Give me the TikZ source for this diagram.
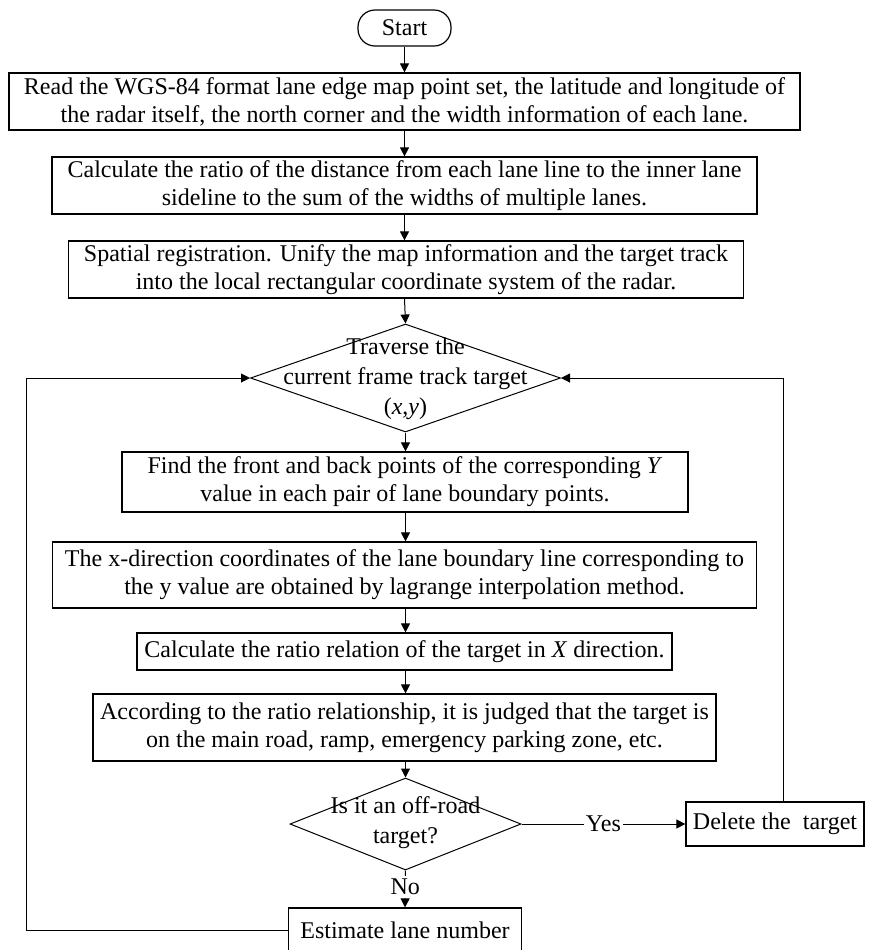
\documentclass[tikz,border=0pt]{standalone}
\usepackage{fontspec}
\setmainfont{Liberation Serif}
\usetikzlibrary{shapes.geometric,arrows.meta}
\tikzset{
  box/.style={draw, line width=0.6pt, align=center, inner sep=0pt, font=\fontsize{12}{14}\selectfont},
  dia/.style={draw, diamond, line width=0.5pt, inner sep=0pt},
  lbl/.style={align=center, inner sep=0pt, font=\fontsize{12}{15}\selectfont},
  arr/.style={line width=0.5pt, -{Triangle[length=4.5pt,width=4.5pt]}},
  ln/.style={line width=0.5pt}
}
\begin{document}
\begin{tikzpicture}[x=0.5pt,y=-0.5pt]
\useasboundingbox (0,0) rectangle (873,950);
\node[box, rounded corners=8.5pt, minimum width=46.5pt, minimum height=18pt] (start) at (404.5,28) {Start};
\node[box, minimum width=395.5pt, minimum height=28.5pt] (b1) at (404.5,101.5)
  {Read the WGS-84 format lane edge map point set, the latitude and longitude of\\the radar itself, the north corner and the width information of each lane.};
\node[box, minimum width=352.5pt, minimum height=28.5pt] (b2) at (404.5,185.5)
  {Calculate the ratio of the distance from each lane line to the inner lane\\sideline to the sum of the widths of multiple lanes.};
\node[box, minimum width=337.5pt, minimum height=28.5pt] (b3) at (406,269.5)
  {Spatial registration. Unify the map information and the target track\\into the local rectangular coordinate system of the radar.};
\node[dia, minimum width=155pt, minimum height=54pt] (d1) at (405.5,378) {};
\node[lbl] (d1t) at (405.5,379) {Traverse the\\current frame track target\\(\textit{x},\textit{y})};
\node[box, minimum width=283pt, minimum height=30pt] (b4) at (405,482)
  {Find the front and back points of the corresponding \textit{Y}\\value in each pair of lane boundary points.};
\node[box, minimum width=352pt, minimum height=33pt] (b5) at (404.5,575)
  {The x-direction coordinates of the lane boundary line corresponding to\\the y value are obtained by lagrange interpolation method.};
\node[box, minimum width=267.5pt, minimum height=18.5pt] (b6) at (404.5,651.5)
  {Calculate the ratio relation of the target in \textit{X} direction.};
\node[box, minimum width=311.5pt, minimum height=33.5pt] (b7) at (404.5,727.5)
  {According to the ratio relationship, it is judged that the target is\\on the main road, ramp, emergency parking zone, etc.};
\node[dia, minimum width=115.5pt, minimum height=46pt] (d2) at (405.5,824) {};
\node[lbl] (d2t) at (405.5,823) {Is it an off-road\\target?};
\node[box, minimum width=89pt, minimum height=22pt] (del) at (775,824) {Delete the~ target};
\node[box, minimum width=116.5pt, minimum height=22pt] (est) at (405,930) {Estimate lane number};
\coordinate (rloop) at (783,378);
\coordinate (lloop) at (26,378);
\draw[arr] (start.south) -- (start.south |- b1.north);
\draw[arr] (start.south |- b1.south) -- (start.south |- b2.north);
\draw[arr] (start.south |- b2.south) -- (start.south |- b3.north);
\draw[arr] (start.south |- b3.south) -- (d1.north);
\draw[arr] (d1.south) -- (d1.south |- b4.north);
\draw[arr] (d1.south |- b4.south) -- (d1.south |- b5.north);
\draw[arr] (d1.south |- b5.south) -- (d1.south |- b6.north);
\draw[arr] (d1.south |- b6.south) -- (d1.south |- b7.north);
\draw[arr] (d1.south |- b7.south) -- (d2.north);
\draw[arr] (d2.east) -- node[lbl, fill=white, inner xsep=1pt] (yes) {Yes} (del.west);
\draw[arr] (d2.south) -- node[lbl, fill=white, inner ysep=1.5pt, pos=0.45] (no) {No} (est.north);
\draw[arr] (del.north -| rloop) -- (rloop) -- (d1.east);
\draw[arr] (est.west) -- (est.west -| lloop) -- (lloop) -- (d1.west);
\end{tikzpicture}
\end{document}
